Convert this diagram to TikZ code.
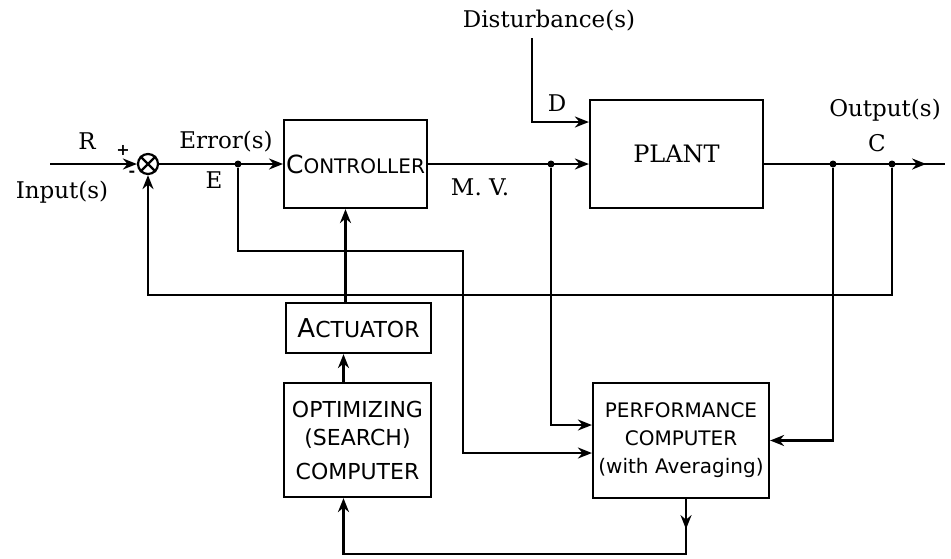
\documentclass[tikz,border=0pt]{standalone}
\usepackage{fontspec}
\setmainfont{DejaVu Serif}
\setsansfont{DejaVu Sans}
\usetikzlibrary{arrows.meta,decorations.markings}

\begin{document}
\begin{tikzpicture}[x=0.5pt,y=-0.5pt]
\tikzset{
  block/.style={draw,line width=1.1pt,inner sep=1pt,align=center,font=\sffamily\fontsize{11}{14}\selectfont},
  tag/.style={inner sep=0pt,font=\fontsize{11.5}{13}\selectfont},
  wire/.style={line width=1.1pt},
  flow/.style={-{Stealth[length=7pt,width=5.5pt]},line width=1.1pt},
  jdot/.style={circle,fill,inner sep=0pt,minimum size=3.5pt},
  markat/.style={postaction=decorate,decoration={markings,
    mark=at position #1 with {\arrow{Stealth[length=7pt,width=5.5pt]}}}}
}
\useasboundingbox (0,0) rectangle (951,558);

% blocks
\node[block,minimum width=70.5pt,minimum height=44pt,font=\sffamily\fontsize{10}{12}\selectfont] (n_ctrl) at (355.5,164) {{\fontsize{12.5}{12}\selectfont C}ONTROLLER};
\node[block,minimum width=86.5pt,minimum height=54pt,font=\fontsize{12}{14}\selectfont] (n_plant) at (676.5,154) {PLANT};
\node[block,minimum width=72.5pt,minimum height=25pt] (n_act) at (358.5,328) {{\fontsize{13}{12}\selectfont A}CTUATOR};
\node[block,minimum width=73.5pt,minimum height=57pt] (n_opt) at (357.5,440) {OPTIMIZING\\(SEARCH)\\[3pt]COMPUTER};
\node[block,minimum width=88pt,minimum height=57.5pt,font=\sffamily\fontsize{10}{14}\selectfont] (n_perf) at (681,440.5) {PERFORMANCE\\COMPUTER\\(with Averaging)};

% summing point
\node[draw,circle,line width=1.1pt,minimum size=10pt,inner sep=0pt] (n_sum) at (148,164) {};
\draw[wire] (n_sum.north west) -- (n_sum.south east) (n_sum.north east) -- (n_sum.south west);

% branch points
\coordinate (c_in) at (50,164);
\coordinate (c_out) at (945,164);
\coordinate (c_dist) at (532,38);
\node[jdot] (j_e) at (238,164) {};
\node[jdot] (j_mv) at (551,164) {};
\node[jdot] (j_c1) at (833,164) {};
\node[jdot] (j_c2) at (892,164) {};

% forward path
\draw[flow] (c_in) -- (n_sum.west);
\draw[flow] (n_sum.east) -- (n_ctrl.west);
\draw[flow] (n_ctrl.east) -- ([yshift=-5pt]n_plant.west);
\draw[flow] (c_dist) |- ([yshift=16pt]n_plant.west);
\draw[wire,markat=81pt] ([yshift=-5pt]n_plant.east) -- (c_out);

% feedback and measurements
\draw[flow] (j_c2) -- ++(0,131) -| (n_sum.south);
\draw[flow] (j_e) |- (463,251) |- ([yshift=-6.25pt]n_perf.west);
\draw[flow] (j_mv) |- ([yshift=7.75pt]n_perf.west);
\draw[flow] (j_c1) |- (n_perf.east);

% optimizing loop
\draw[flow] ([xshift=-6.5pt]n_act.north) -- ([xshift=-6.5pt]n_act.north |- n_ctrl.south);
\draw[flow] ([xshift=-7pt]n_opt.north) -- ([xshift=-7pt]n_opt.north |- n_act.south);
\draw[flow,markat=15pt] ([xshift=2.5pt]n_perf.south) -- ++(0,55) -| ([xshift=-7pt]n_opt.south);

% labels
\node[tag] (t_dist) at (549,21) {Disturbance(s)};
\node[tag] (t_r) at (87,141) {R};
\node[tag] (t_in) at (62,192) {Input(s)};
\node[tag,font=\bfseries\fontsize{8}{8}\selectfont] (t_plus) at (123,150) {+};
\node[tag,font=\bfseries\fontsize{8}{8}\selectfont] (t_minus) at (132,174) {-};
\node[tag] (t_err) at (226,142) {Error(s)};
\node[tag] (t_e) at (214,180) {E};
\node[tag] (t_mv) at (480,187) {M. V.};
\node[tag] (t_d) at (557,103) {D};
\node[tag] (t_outp) at (885,110) {Output(s)};
\node[tag] (t_c) at (877,143) {C};
\end{tikzpicture}
\end{document}
